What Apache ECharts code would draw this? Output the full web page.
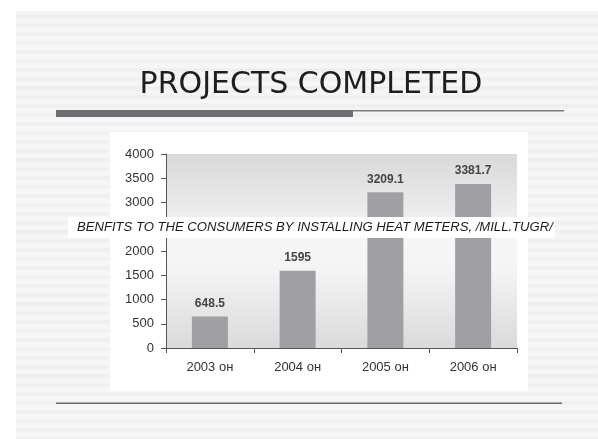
<!DOCTYPE html>
<html>
<head>
<meta charset="utf-8">
<script src="https://cdn.jsdelivr.net/npm/echarts@6/dist/echarts.min.js"></script>
<style>
  html, body { margin: 0; padding: 0; background: #ffffff; }
  #wrap { position: relative; width: 598px; height: 439px; overflow: hidden; }
  #stripes {
    position: absolute; left: 16px; top: 11px; right: 0; bottom: 0;
    background: repeating-linear-gradient(180deg, #f6f6f6 0px, #f6f6f6 3px, #ececec 4px, #f1f1f1 6px, #f6f6f6 8px, #f6f6f6 9px);
  }
  #chart { position: absolute; left: 0; top: 0; width: 598px; height: 439px; }
</style>
</head>
<body>
<div id="wrap">
  <div id="stripes"></div>
  <div id="chart"></div>
</div>
<script>
// data
var years = ["2003 он", "2004 он", "2005 он", "2006 он"];
var benefits = [648.5, 1595, 3209.1, 3381.7];
var yMin = 0, yMax = 4000, yStep = 500;

var titleText = "PROJECTS COMPLETED";
var noteText = "BENFITS TO THE CONSUMERS BY INSTALLING HEAT METERS, /MILL.TUGR/";

var myChart = echarts.init(document.getElementById("chart"));
myChart.setOption({
  backgroundColor: "transparent",
  animation: false,
  // 图框与装饰
  graphic: [
    { type: "rect", z: -10, shape: { x: 110, y: 132, width: 418, height: 259 }, style: { fill: "#ffffff" } },
    { type: "rect", shape: { x: 56, y: 110, width: 297, height: 7 }, style: { fill: "#6d6e72" } },
    { type: "rect", shape: { x: 353, y: 110, width: 211, height: 1.5 }, style: { fill: "#7a7a7a" } },
    { type: "rect", shape: { x: 56, y: 402.5, width: 506, height: 1.5 }, style: { fill: "#6a6a6a" } },
    {
      type: "text", x: 311, y: 70,
      style: { text: titleText, fill: "#1e1e1e", font: "30px 'DejaVu Sans'", textAlign: "center" }
    },
    { type: "rect", z: 20, shape: { x: 68, y: 217, width: 487, height: 21 }, style: { fill: "#ffffff" } },
    {
      type: "text", z: 21, x: 77, y: 220.5,
      style: { text: noteText, fill: "#1a1a1a", font: "italic 13.1px 'Liberation Sans'" }
    }
  ],
  grid: {
    left: 166,
    right: 81,
    top: 154,
    bottom: 91,
    show: true,
    borderWidth: 0,
    backgroundColor: {
      type: "linear", x: 0, y: 0, x2: 0, y2: 1,
      colorStops: [
        { offset: 0, color: "#d9d9d9" },
        { offset: 0.45, color: "#f6f6f6" },
        { offset: 0.6, color: "#f4f4f4" },
        { offset: 1, color: "#dadada" }
      ]
    }
  },
  xAxis: {
    type: "category",
    data: years,
    axisLine: { lineStyle: { color: "#555555", width: 1 } },
    axisTick: { show: true, length: 5, lineStyle: { color: "#555555" } },
    axisLabel: { color: "#333333", fontSize: 13, fontFamily: "Liberation Sans", margin: 13 }
  },
  yAxis: {
    type: "value",
    min: yMin,
    max: yMax,
    interval: yStep,
    splitLine: { show: false },
    axisLine: { show: true, lineStyle: { color: "#555555", width: 1 } },
    axisTick: { show: true, length: 5, lineStyle: { color: "#555555" } },
    axisLabel: {
      color: "#333333", fontSize: 13, fontFamily: "Liberation Sans", margin: 12,
      formatter: function (v) { return String(v); }
    }
  },
  series: [
    {
      type: "bar",
      data: benefits,
      barWidth: 36,
      itemStyle: { color: "#a0a0a4" },
      label: {
        show: true,
        position: "top",
        distance: 7,
        color: "#444444",
        fontSize: 12,
        fontWeight: "bold",
        fontFamily: "Liberation Sans"
      }
    }
  ]
});
</script>
</body>
</html>
